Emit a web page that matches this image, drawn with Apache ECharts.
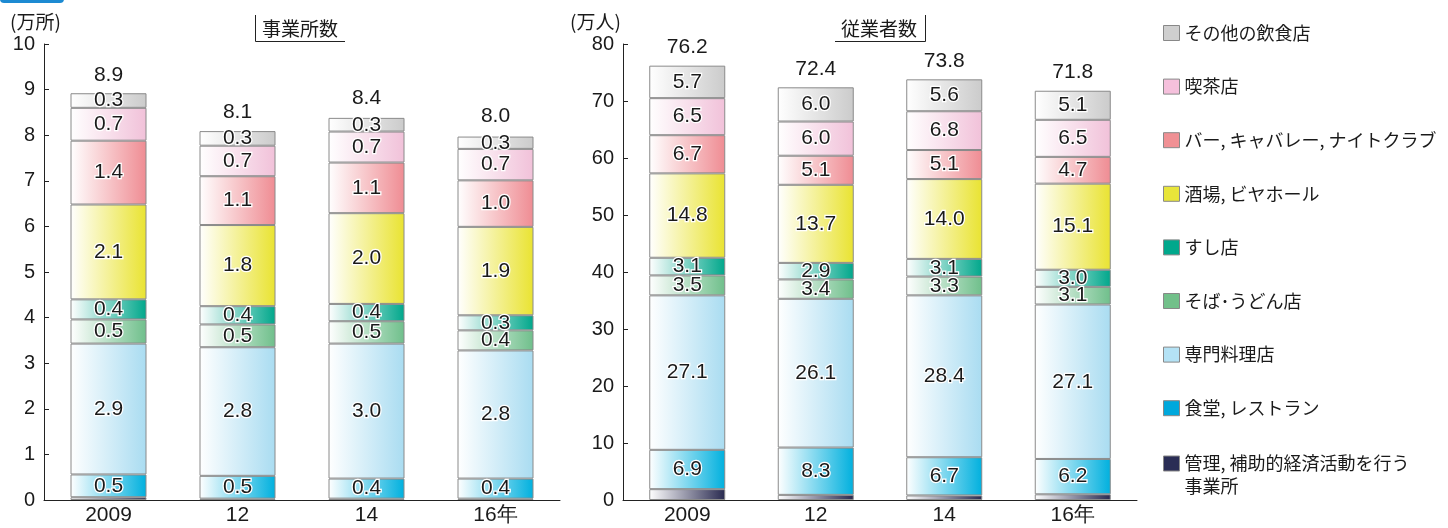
<!DOCTYPE html>
<html><head><meta charset="utf-8">
<script src="https://cdn.jsdelivr.net/npm/echarts@6/dist/echarts.min.js"></script>
<style>html,body{margin:0;padding:0;background:#fff}#c{width:1448px;height:528px}</style>
</head><body><div id="c"></div>
<script>
const categories = ['2009', '12', '14', '16年'];
const seriesNames = ['管理, 補助的経済活動を行う事業所', '食堂, レストラン', '専門料理店', 'そば･うどん店', 'すし店', '酒場, ビヤホール', 'バー, キャバレー, ナイトクラブ', '喫茶店', 'その他の飲食店'];
const colors = ['#28294f', '#00b0de', '#a9dcf1', '#6fbf8b', '#00a78b', '#e9e331', '#ef8c93', '#f1c1d9', '#cbcbcb'];
const legendColors = ['#2a2d55', '#00a8dc', '#b4e2f5', '#72c08a', '#00a88c', '#e8e53a', '#f09094', '#f5c0dc', '#cfcfcf'];

// 事業所数 (万所)
const estKanri = [0.06, 0.03, 0.03, 0.03];
const estShokudo = [0.50, 0.50, 0.44, 0.44];
const estSenmon = [2.87, 2.82, 2.96, 2.81];
const estSoba = [0.53, 0.50, 0.49, 0.44];
const estSushi = [0.44, 0.40, 0.38, 0.33];
const estSakaba = [2.08, 1.78, 1.99, 1.94];
const estBar = [1.40, 1.07, 1.11, 1.02];
const estKissa = [0.72, 0.67, 0.68, 0.69];
const estSonota = [0.32, 0.32, 0.30, 0.27];
const estTotals = [8.9, 8.1, 8.4, 8.0];

// 従業者数 (万人)
const empKanri = [1.9, 0.9, 0.8, 1.0];
const empShokudo = [6.9, 8.3, 6.7, 6.2];
const empSenmon = [27.1, 26.1, 28.4, 27.1];
const empSoba = [3.5, 3.4, 3.3, 3.1];
const empSushi = [3.1, 2.9, 3.1, 3.0];
const empSakaba = [14.8, 13.7, 14.0, 15.1];
const empBar = [6.7, 5.1, 5.1, 4.7];
const empKissa = [6.5, 6.0, 6.8, 6.5];
const empSonota = [5.7, 6.0, 5.6, 5.1];
const empTotals = [76.2, 72.4, 73.8, 71.8];

const estData = [estKanri, estShokudo, estSenmon, estSoba, estSushi, estSakaba, estBar, estKissa, estSonota];
const empData = [empKanri, empShokudo, empSenmon, empSoba, empSushi, empSakaba, empBar, empKissa, empSonota];

const NUM_FONT = '"Liberation Sans Narrow", "Liberation Sans", sans-serif';
const JP_FONT = '"Noto Sans CJK JP", sans-serif';

function grad(c) {
  return { type: 'linear', x: 0, y: 0, x2: 1, y2: 0,
    colorStops: [{ offset: 0, color: '#ffffff' }, { offset: 1, color: c }] };
}

const series = [];
function addStack(dataSets, totals, axisIdx, stackName) {
  dataSets.forEach((d, i) => {
    series.push({
      name: seriesNames[i], type: 'bar', stack: stackName,
      xAxisIndex: axisIdx, yAxisIndex: axisIdx,
      barWidth: 76, data: d,
      itemStyle: { color: grad(colors[i]), borderColor: '#8a8a8a', borderWidth: 1 },
      label: {
        show: i > 0, position: 'inside',
        formatter: p => p.value.toFixed(1),
        fontFamily: NUM_FONT, fontSize: 21, color: '#1a1a1a',
        textBorderColor: '#fff', textBorderWidth: 2.5
      },
      emphasis: { disabled: true }
    });
  });
  series.push({
    name: 'total' + axisIdx, type: 'scatter', xAxisIndex: axisIdx, yAxisIndex: axisIdx,
    symbolSize: 0, data: totals, silent: true,
    itemStyle: { opacity: 1, color: '#1a1a1a' },
    label: { show: true, position: 'top', distance: 8, formatter: p => p.value.toFixed(1),
      fontFamily: NUM_FONT, fontSize: 21, color: '#1a1a1a', opacity: 1 }
  });
}
addStack(estData, estTotals, 0, 'est');
addStack(empData, empTotals, 1, 'emp');

const axisLineStyle = { color: '#222', width: 1 };
function xAx(i) {
  return { type: 'category', gridIndex: i, data: categories, boundaryGap: true,
    axisLine: { lineStyle: axisLineStyle },
    axisTick: { inside: true, length: 8, lineStyle: axisLineStyle },
    axisLabel: { fontFamily: NUM_FONT, fontSize: 21, color: '#1a1a1a', margin: 5 } };
}
function yAx(i, max, interval) {
  return { type: 'value', gridIndex: i, min: 0, max: max, interval: interval,
    axisLine: { show: true, lineStyle: axisLineStyle },
    axisTick: { show: true, inside: true, length: 5, lineStyle: axisLineStyle },
    splitLine: { show: false },
    axisLabel: { fontFamily: NUM_FONT, fontSize: 20, color: '#1a1a1a', margin: 9 } };
}

const legendItems = seriesNames.slice().reverse();
const legendCols = legendColors.slice().reverse();

const option = {
  animation: false,
  backgroundColor: '#fff',
  grid: [
    { left: 44, top: 44, width: 516, height: 456 },
    { left: 623, top: 44, width: 514, height: 456 }
  ],
  xAxis: [xAx(0), xAx(1)],
  yAxis: [yAx(0, 10, 1), yAx(1, 80, 10)],
  legend: [
    {
      orient: 'vertical', left: 1163, top: 22, padding: 0, itemGap: 31.6,
      itemWidth: 16, itemHeight: 15, selectedMode: false,
      textStyle: { fontFamily: JP_FONT, fontSize: 18, color: '#1a1a1a', lineHeight: 22 },
      data: legendItems.slice(0, 8).map((n, k) => ({ name: n, icon: 'rect',
        itemStyle: { color: legendCols[k], borderColor: '#888', borderWidth: 1 } }))
    },
    {
      orient: 'vertical', left: 1163, top: 429, padding: 0,
      itemWidth: 16, itemHeight: 15, selectedMode: false,
      formatter: n => ' \n管理, 補助的経済活動を行う\n事業所',
      textStyle: { fontFamily: JP_FONT, fontSize: 18, color: '#1a1a1a', lineHeight: 23 },
      data: [{ name: legendItems[8], icon: 'rect',
        itemStyle: { color: legendCols[8], borderColor: '#888', borderWidth: 1 } }]
    }
  ],
  graphic: [
    { type: 'rect', shape: { x: 0, y: -6, width: 64, height: 9, r: 4 }, style: { fill: '#1c8ad2' } },
    { type: 'text', x: 10, y: 22, style: { text: '(万所)', fontFamily: JP_FONT, fontSize: 19, fill: '#1a1a1a', verticalAlign: 'middle' } },
    { type: 'text', x: 570, y: 22, style: { text: '(万人)', fontFamily: JP_FONT, fontSize: 19, fill: '#1a1a1a', verticalAlign: 'middle' } },
    { type: 'polyline', shape: { points: [[255.5, 15], [255.5, 41.5], [345, 41.5]] }, style: { stroke: '#222', lineWidth: 1, fill: null } },
    { type: 'text', x: 300, y: 29, style: { text: '事業所数', fontFamily: JP_FONT, fontSize: 19, fill: '#1a1a1a', align: 'center', verticalAlign: 'middle' } },
    { type: 'polyline', shape: { points: [[835, 41.5], [925.5, 41.5], [925.5, 15]] }, style: { stroke: '#222', lineWidth: 1, fill: null } },
    { type: 'text', x: 879, y: 29, style: { text: '従業者数', fontFamily: JP_FONT, fontSize: 19, fill: '#1a1a1a', align: 'center', verticalAlign: 'middle' } }
  ],
  series: series
};

const chart = echarts.init(document.getElementById('c'), null, { renderer: 'canvas' });
chart.setOption(option);
</script>
</body></html>
